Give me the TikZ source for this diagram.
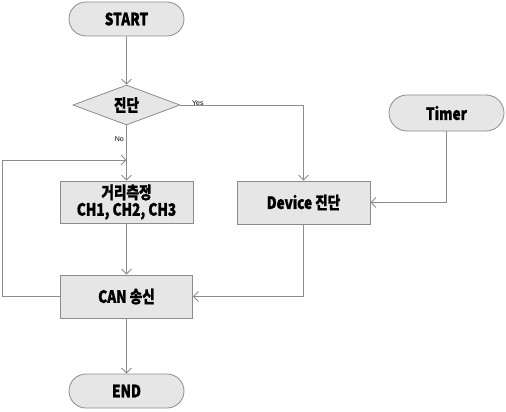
\documentclass[tikz,border=0pt]{standalone}
\usepackage{fontspec}
\usetikzlibrary{shapes.geometric,shapes.misc,arrows.meta}
\newfontfamily\kfont{Noto Sans CJK KR}[FakeStretch=0.8,BoldFeatures={FakeBold=1.2}]
\newfontfamily\lfont{Liberation Sans}
\definecolor{boxfill}{HTML}{E6E6E6}
\definecolor{edge}{HTML}{8C8C8C}
\tikzset{
  base/.style={draw=edge, fill=boxfill, line width=0.8pt, inner sep=0pt,
    font=\kfont\bfseries\fontsize{17}{17}\selectfont, text=black, align=center},
  term/.style={base, rounded rectangle},
  proc/.style={base, rectangle},
  dec/.style={base, diamond, aspect=2.6},
  conn/.style={draw=edge, line width=0.8pt, -{Straight Barb[length=5pt,width=10pt]}},
  lbl/.style={font=\lfont\fontsize{7}{8}\selectfont, inner sep=0pt}
}
\begin{document}
\begin{tikzpicture}[x=1pt,y=-1pt]
\useasboundingbox (0,0) rectangle (506,412);
\node[term, minimum width=115pt, minimum height=34pt] (start) at (126.5,19) {START};
\node[dec, minimum width=107pt, minimum height=40pt] (diag) at (126.5,105) {진단};
\node[proc, minimum width=133pt, minimum height=42pt] (meas) at (126.5,202) {거리측정\\CH1, CH2, CH3};
\node[proc, minimum width=133pt, minimum height=43pt] (dev) at (303.5,202.5) {Device 진단};
\node[proc, minimum width=132pt, minimum height=43pt] (can) at (126.5,296.5) {CAN 송신};
\node[term, minimum width=115pt, minimum height=36pt] (timer) at (446.5,113) {Timer};
\node[term, minimum width=115pt, minimum height=34pt] (end) at (126.5,391) {END};
\coordinate (loopend) at (126.5,160);
\coordinate (loopl) at (2,160);
\node[lbl, anchor=south west] (yes) at (192,106) {Yes};
\node[lbl, anchor=north east] (no) at (124,136) {No};

\draw[conn] (start) -- (diag);
\draw[conn] (diag) -- (meas);
\draw[conn] (meas) -- (can);
\draw[conn] (can) -- (end);
\draw[conn] (diag.east) -| (dev.north);
\draw[conn] (timer.south) |- (dev.east);
\draw[conn] (dev.south) |- (can.east);
\draw[conn] (can.west) -| (loopl) -- (loopend);
\end{tikzpicture}
\end{document}
